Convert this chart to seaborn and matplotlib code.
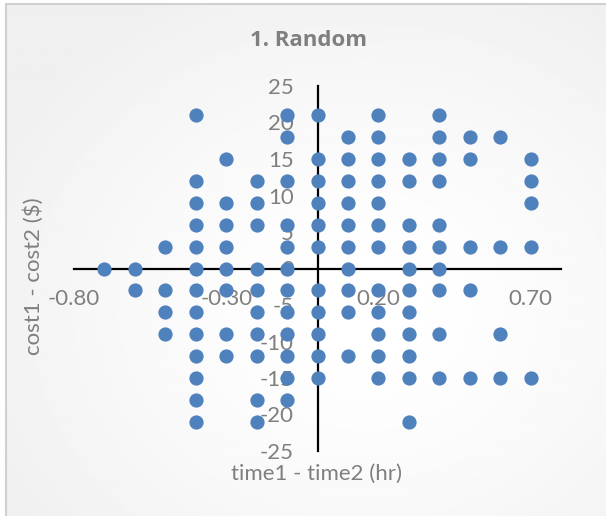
import numpy as np
import matplotlib
matplotlib.use("Agg")
import matplotlib.pyplot as plt
import seaborn as sns

# time1 - time2 (hr) and cost1 - cost2 ($), one entry per point
time_diff = [
    -0.4, -0.1, 0.0, 0.2, 0.4,
    -0.1, 0.1, 0.2, 0.4, 0.5, 0.6,
    -0.3, 0.0, 0.1, 0.2, 0.3, 0.4, 0.5, 0.7,
    -0.4, -0.2, -0.1, 0.0, 0.1, 0.2, 0.3, 0.4, 0.7,
    -0.4, -0.3, -0.2, 0.0, 0.1, 0.2, 0.7,
    -0.4, -0.3, -0.2, -0.1, 0.0, 0.1, 0.2, 0.3, 0.4,
    -0.5, -0.4, -0.3, -0.1, 0.0, 0.1, 0.2, 0.3, 0.4, 0.5, 0.6, 0.7,
    -0.7, -0.6, -0.4, -0.3, -0.2, -0.1, 0.1, 0.3, 0.4,
    -0.6, -0.5, -0.4, -0.3, -0.2, -0.1, 0.0, 0.1, 0.2, 0.3, 0.4, 0.5,
    -0.5, -0.4, -0.2, -0.1, 0.0, 0.1, 0.2, 0.3,
    -0.5, -0.4, -0.3, -0.2, -0.1, 0.0, 0.2, 0.3, 0.4, 0.6,
    -0.4, -0.3, -0.2, -0.1, 0.0, 0.1, 0.2, 0.3,
    -0.4, -0.1, 0.0, 0.2, 0.3, 0.4, 0.5, 0.6, 0.7,
    -0.4, -0.2, -0.1,
    -0.4, -0.2, 0.3,
]
cost_diff = (
    [21] * 5 + [18] * 6 + [15] * 8 + [12] * 9 + [9] * 7 + [6] * 9
    + [3] * 12 + [0] * 9 + [-3] * 12 + [-6] * 8 + [-9] * 10
    + [-12] * 8 + [-15] * 9 + [-18] * 3 + [-21] * 3
)

x_ticks = [-0.8, -0.3, 0.2, 0.7]
x_tick_labels = ["-0.80", "-0.30", "0.20", "0.70"]
y_ticks = [-25, -20, -15, -10, -5, 0, 5, 10, 15, 20, 25]

sns.set_style("white")
plt.rcParams["font.family"] = ["Lato", "DejaVu Sans"]

grey = "#7f7f7f"
fig = plt.figure(figsize=(6.06, 5.16), dpi=100)

# chart area with soft radial shading, like the Excel chart background
bg = fig.add_axes([6 / 606, 0, 1 - 6 / 606, 1 - 4 / 516])
gx, gy = np.meshgrid(np.linspace(-1, 1, 200), np.linspace(-1, 1, 200))
shade = 1 - 0.06 * np.clip(np.hypot(gx - 0.2, gy - 0.2) / 1.4, 0, 1) ** 1.5
bg.imshow(shade, cmap="gray", vmin=0, vmax=1, aspect="auto", extent=[0, 1, 0, 1])
bg.set_xticks([])
bg.set_yticks([])
for side in ["right", "bottom"]:
    bg.spines[side].set_visible(False)
for side in ["left", "top"]:
    bg.spines[side].set_color("#d0d0d0")
    bg.spines[side].set_linewidth(1.5)

ax = fig.add_axes([74 / 606, 65 / 516, 487 / 606, 365 / 516])
ax.patch.set_alpha(0)
sns.scatterplot(x=time_diff, y=cost_diff, ax=ax, color="#4f81bd", s=105,
                linewidth=0, zorder=2)

ax.set_xlim(-0.8, 0.8)
ax.set_ylim(-25, 25)
ax.set_xticks(x_ticks)
ax.set_xticklabels(x_tick_labels)
ax.set_yticks(y_ticks)
ax.set_yticklabels([str(v) for v in y_ticks])

for side in ["top", "right"]:
    ax.spines[side].set_visible(False)
for side in ["left", "bottom"]:
    ax.spines[side].set_position(("data", 0))
    ax.spines[side].set_color("black")
    ax.spines[side].set_linewidth(1.6)
    ax.spines[side].set_zorder(1)

ax.tick_params(axis="both", length=0, labelsize=16, labelcolor=grey)
ax.tick_params(axis="x", pad=15)
ax.tick_params(axis="y", pad=17)

ax.set_xlabel("time1 - time2 (hr)", fontsize=16, color=grey)
ax.xaxis.set_label_coords(0.497, -0.036)
ax.set_ylabel("cost1 - cost2 ($)", fontsize=16, color=grey)
ax.yaxis.set_label_coords(-0.062, 0.48)

fig.text(309 / 606, 1 - 40 / 516, "1. Random", fontsize=16, fontweight="bold",
         family=["Open Sans", "DejaVu Sans"], color=grey, ha="center", va="center")

fig.savefig("out.png", dpi=100)
